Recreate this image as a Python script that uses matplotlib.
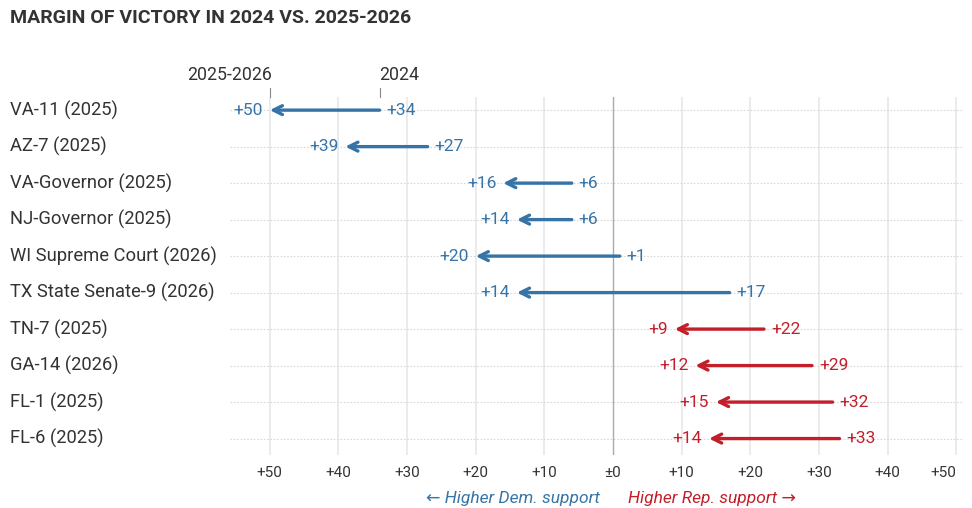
import matplotlib
matplotlib.use("Agg")
import matplotlib.pyplot as plt

plt.rcParams['font.family'] = ['Roboto', 'DejaVu Sans']

# データ（民主党側をマイナスで表す）
races = ["VA-11 (2025)", "AZ-7 (2025)", "VA-Governor (2025)", "NJ-Governor (2025)",
         "WI Supreme Court (2026)", "TX State Senate-9 (2026)", "TN-7 (2025)",
         "GA-14 (2026)", "FL-1 (2025)", "FL-6 (2025)"]
margin_2024 = [-34, -27, -6, -6, 1, 17, 22, 29, 32, 33]
margin_2025 = [-50, -39, -16, -14, -20, -14, 9, 12, 15, 14]
tick_values = [-50, -40, -30, -20, -10, 0, 10, 20, 30, 40, 50]
tick_labels = ["+50", "+40", "+30", "+20", "+10", "±0", "+10", "+20", "+30", "+40", "+50"]

BLUE = "#3674a8"
RED = "#c21f2b"
TEXT = "#333333"

fig = plt.figure(figsize=(9.72, 5.08), dpi=100)
ax = fig.add_axes([230 / 972, 53 / 508, 733 / 972, 358 / 508])
ax.set_xlim(-55.8, 51)
ax.set_ylim(9.45, -0.36)

# グリッド
for t in tick_values:
    if t == 0:
        ax.axvline(t, color="#aaaaaa", lw=1.0, zorder=1)
    else:
        ax.axvline(t, color="#e8e8e8", lw=1.2, zorder=0)
for i in range(len(races)):
    ax.axhline(i, color="#d8d8d8", lw=0.8, ls=(0, (1.5, 1.5)), zorder=0)

# 矢印とラベル
for i, (a, b) in enumerate(zip(margin_2024, margin_2025)):
    col = BLUE if b < 0 else RED
    ax.annotate("", xy=(b, i), xytext=(a, i),
                arrowprops=dict(arrowstyle="->", color=col, lw=2.4,
                                mutation_scale=16, shrinkA=0, shrinkB=0),
                zorder=3)
    ax.annotate(f"+{abs(b)}", xy=(b, i), xytext=(-5, 0), textcoords="offset points",
                ha="right", va="center", color=col, fontsize=12.5)
    ax.annotate(f"+{abs(a)}", xy=(a, i), xytext=(5, 0), textcoords="offset points",
                ha="left", va="center", color=col, fontsize=12.5)

# 行ラベル（図の座標で配置）
ax.set_yticks([])
for i, r in enumerate(races):
    y_fig = ax.transData.transform((0, i))[1] / fig.dpi / 5.08
    fig.text(10 / 972, y_fig, r, ha="left", va="center", fontsize=13.2, color=TEXT)

ax.set_xticks(tick_values)
ax.set_xticklabels(tick_labels)
ax.get_xticklabels()[-1].set_horizontalalignment("right")
ax.tick_params(axis="x", length=0, pad=8, labelsize=11, colors=TEXT)
for s in ax.spines.values():
    s.set_visible(False)

# 上部の注記
for xv in [margin_2025[0], margin_2024[0]]:
    ax.plot([xv, xv], [-0.62, -0.36], color="#888888", lw=0.8, clip_on=False)
ax.text(margin_2025[0] + 0.3, -0.72, "2025-2026", ha="right", va="bottom",
        fontsize=12.8, color=TEXT)
ax.text(margin_2024[0], -0.72, "2024", ha="left", va="bottom",
        fontsize=12.8, color=TEXT)

fig.text(10 / 972, 1 - 18 / 508, "MARGIN OF VICTORY IN 2024 VS. 2025-2026",
         ha="left", va="center", fontsize=14, fontweight="bold", color=TEXT)

fig.text(600 / 972, 1 - 498 / 508, "← Higher Dem. support", ha="right", va="center",
         fontsize=12.5, style="italic", color=BLUE)
fig.text(628 / 972, 1 - 498 / 508, "Higher Rep. support →", ha="left", va="center",
         fontsize=12.5, style="italic", color=RED)

fig.savefig("out.png", dpi=100)
